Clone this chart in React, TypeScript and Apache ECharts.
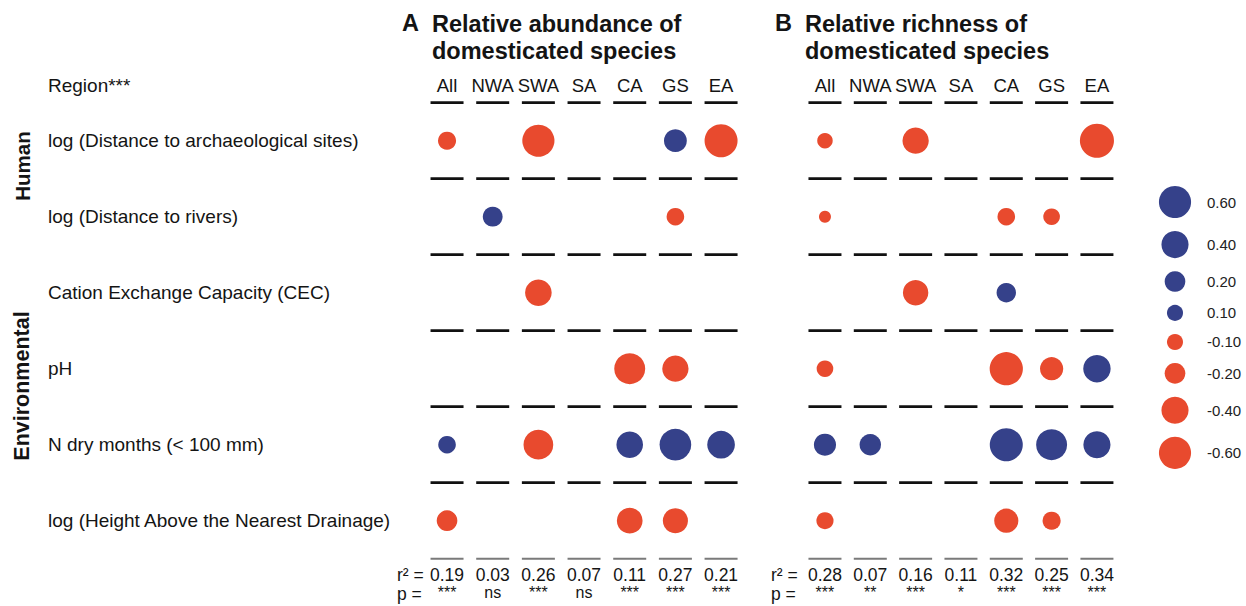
import React, { useEffect, useRef } from "react";
import * as echarts from "echarts";

const COLS = ["All", "NWA", "SWA", "SA", "CA", "GS", "EA"];
const ROWS = [
  "log (Distance to archaeological sites)",
  "log (Distance to rivers)",
  "Cation Exchange Capacity (CEC)",
  "pH",
  "N dry months (< 100 mm)",
  "log (Height Above the Nearest Drainage)",
];

// standardized coefficients (null = not retained)
const abundance: (number | null)[][] = [
  [-0.14, null, -0.6, null, null, 0.26, -0.64],
  [null, 0.18, null, null, null, -0.13, null],
  [null, null, -0.38, null, null, null, null],
  [null, null, null, null, -0.55, -0.37, null],
  [0.13, null, -0.5, null, 0.38, 0.58, 0.42],
  [-0.2, null, null, null, -0.35, -0.33, null],
];
const richness: (number | null)[][] = [
  [-0.09, null, -0.37, null, null, null, -0.69],
  [-0.04, null, null, null, -0.13, -0.11, null],
  [null, null, -0.34, null, 0.17, null, null],
  [-0.11, null, null, null, -0.65, -0.27, 0.41],
  [0.24, 0.22, null, null, 0.64, 0.55, 0.4],
  [-0.12, null, null, null, -0.3, -0.14, null],
];

const r2A = ["0.19", "0.03", "0.26", "0.07", "0.11", "0.27", "0.21"];
const pA = ["***", "ns", "***", "ns", "***", "***", "***"];
const r2B = ["0.28", "0.07", "0.16", "0.11", "0.32", "0.25", "0.34"];
const pB = ["***", "**", "***", "*", "***", "***", "***"];

const LEGEND_VALUES = [0.6, 0.4, 0.2, 0.1, -0.1, -0.2, -0.4, -0.6];

const RED = "#E84A2E";
const BLUE = "#35418A";
const INK = "#141414";
const FONT = "'Liberation Sans', Arial, Helvetica, sans-serif";

const bubbleSize = (v: number) => 5 + 35 * Math.sqrt(Math.abs(v));

function bubbleData(m: (number | null)[][]) {
  const out: any[] = [];
  m.forEach((row, r) =>
    row.forEach((v, c) => {
      if (v !== null)
        out.push({ value: [c, r, v], itemStyle: { color: v < 0 ? RED : BLUE, opacity: 1 } });
    })
  );
  return out;
}

function sepData(boundaries: number[]) {
  const out: number[][] = [];
  boundaries.forEach((b) => COLS.forEach((_, c) => out.push([c, b])));
  return out;
}

export default function App() {
  const ref = useRef<HTMLDivElement>(null);
  useEffect(() => {
    if (!ref.current) return;
    const chart = echarts.init(ref.current, undefined, { renderer: "svg" });

    const gridTop = 102.7;
    const gridH = 456;
    const gridA = { left: 424.2, top: gridTop, width: 319.7, height: gridH };
    const gridB = { left: 802.3, top: gridTop, width: 317.3, height: gridH };
    const gridL = { left: 1160, top: 170, width: 30, height: 320 };

    // legend vertical layout: stacked by bubble size with fixed gap
    const legendY: number[] = [];
    let y = 32;
    LEGEND_VALUES.forEach((v, i) => {
      if (i > 0) y += bubbleSize(LEGEND_VALUES[i - 1]) / 2 + bubbleSize(v) / 2 + 13;
      legendY.push(y);
    });

    const blackBounds = [-0.5, 0.5, 1.5, 2.5, 3.5, 4.5];
    const greyBounds = [5.5];

    const topX = (gi: number) => ({
      type: "category",
      gridIndex: gi,
      data: COLS,
      position: "top",
      boundaryGap: true,
      axisLine: { show: false },
      axisTick: { show: false },
      splitLine: { show: false },
      axisLabel: { interval: 0, margin: 8, fontSize: 18.5, color: INK, fontFamily: FONT },
    });
    const botX = (gi: number, r2: string[], p: string[]) => ({
      type: "category",
      gridIndex: gi,
      data: COLS,
      position: "bottom",
      boundaryGap: true,
      axisLine: { show: false },
      axisTick: { show: false },
      splitLine: { show: false },
      axisLabel: {
        interval: 0,
        margin: 7,
        formatter: (_v: string, i: number) => `{r|${r2[i]}}\n{p|${p[i]}}`,
        rich: {
          r: { fontSize: 17.5, lineHeight: 18, color: INK, fontFamily: FONT },
          p: { fontSize: 16, lineHeight: 18, color: INK, fontFamily: FONT },
        },
      },
    });
    const catY = (gi: number, showLabels: boolean) => ({
      type: "category",
      gridIndex: gi,
      data: ROWS,
      inverse: true,
      boundaryGap: true,
      axisLine: { show: false },
      axisTick: { show: false },
      splitLine: { show: false },
      axisLabel: {
        show: showLabels,
        align: "left",
        margin: 424.2 - 48,
        fontSize: 19,
        color: INK,
        fontFamily: FONT,
        padding: [0, 0, 6, 0],
      },
    });
    const valY = (gi: number) => ({
      type: "value",
      gridIndex: gi,
      min: -0.5,
      max: 5.5,
      inverse: true,
      show: false,
      splitLine: { show: false },
    });

    const sepSeries = (xi: number, yi: number) => [
      {
        type: "scatter",
        xAxisIndex: xi,
        yAxisIndex: yi,
        clip: false,
        symbol: "rect",
        symbolSize: [33, 2.7],
        itemStyle: { color: "#111111", opacity: 1 },
        data: sepData(blackBounds),
        silent: true,
        z: 1,
      },
      {
        type: "scatter",
        xAxisIndex: xi,
        yAxisIndex: yi,
        clip: false,
        symbol: "rect",
        symbolSize: [33, 2],
        itemStyle: { color: "#7a7a7a", opacity: 1 },
        data: sepData(greyBounds),
        silent: true,
        z: 1,
      },
    ];
    const bubbleSeries = (xi: number, yi: number, m: (number | null)[][]) => ({
      type: "scatter",
      xAxisIndex: xi,
      yAxisIndex: yi,
      clip: false,
      symbol: "circle",
      symbolSize: (v: number[]) => bubbleSize(v[2]),
      data: bubbleData(m),
      z: 2,
    });

    const textStyle = (size: number, weight: string = "normal") => ({
      fontSize: size,
      fontWeight: weight,
      fontFamily: FONT,
      fill: INK,
    });

    chart.setOption({
      animation: false,
      backgroundColor: "#ffffff",
      grid: [gridA, gridB, gridL],
      xAxis: [
        topX(0),
        botX(0, r2A, pA),
        topX(1),
        botX(1, r2B, pB),
        { type: "value", gridIndex: 2, min: -1, max: 1, show: false, splitLine: { show: false } },
      ],
      yAxis: [
        catY(0, true),
        valY(0),
        catY(1, false),
        valY(1),
        { type: "value", gridIndex: 2, min: 0, max: 320, inverse: true, show: false, splitLine: { show: false } },
      ],
      series: [
        ...sepSeries(0, 1),
        bubbleSeries(0, 0, abundance),
        ...sepSeries(2, 3),
        bubbleSeries(2, 2, richness),
        {
          type: "scatter",
          xAxisIndex: 4,
          yAxisIndex: 4,
          clip: false,
          symbol: "circle",
          symbolSize: (v: number[]) => bubbleSize(v[2]),
          data: LEGEND_VALUES.map((v, i) => ({
            value: [0, legendY[i], v],
            itemStyle: { color: v < 0 ? RED : BLUE, opacity: 1 },
          })),
          label: {
            show: true,
            position: "inside",
            align: "left",
            offset: [32, 0],
            formatter: (p: any) => p.value[2].toFixed(2),
            fontSize: 15,
            color: "#222222",
            fontFamily: FONT,
          },
        },
      ],
      graphic: [
        { type: "text", left: 402, top: 11, style: { text: "A", ...textStyle(23.5, "bold") } },
        {
          type: "text",
          left: 432,
          top: 10,
          style: { text: "Relative abundance of\ndomesticated species", lineHeight: 27, ...textStyle(23.5, "bold") },
        },
        { type: "text", left: 775, top: 11, style: { text: "B", ...textStyle(23.5, "bold") } },
        {
          type: "text",
          left: 805,
          top: 10,
          style: { text: "Relative richness of\ndomesticated species", lineHeight: 27, ...textStyle(23.5, "bold") },
        },
        {
          type: "text",
          x: 48,
          y: 85.5,
          style: { text: "Region***", align: "left", verticalAlign: "middle", ...textStyle(19) },
        },
        {
          type: "text",
          x: 22,
          y: 166,
          rotation: Math.PI / 2,
          style: { text: "Human", align: "center", verticalAlign: "middle", ...textStyle(20.5, "bold") },
        },
        {
          type: "text",
          x: 22,
          y: 386,
          rotation: Math.PI / 2,
          style: { text: "Environmental", align: "center", verticalAlign: "middle", ...textStyle(21.5, "bold") },
        },
        { type: "text", x: 397, y: 575, style: { text: "r² =", align: "left", verticalAlign: "middle", ...textStyle(17.5) } },
        { type: "text", x: 397, y: 594, style: { text: "p =", align: "left", verticalAlign: "middle", ...textStyle(17.5) } },
        { type: "text", x: 771, y: 575, style: { text: "r² =", align: "left", verticalAlign: "middle", ...textStyle(17.5) } },
        { type: "text", x: 771, y: 594, style: { text: "p =", align: "left", verticalAlign: "middle", ...textStyle(17.5) } },
      ],
    });
    return () => chart.dispose();
  }, []);
  return (
    <div
      ref={ref}
      style={{ position: "fixed", left: 0, top: 0, width: 1246, height: 606, background: "#ffffff" }}
    />
  );
}
